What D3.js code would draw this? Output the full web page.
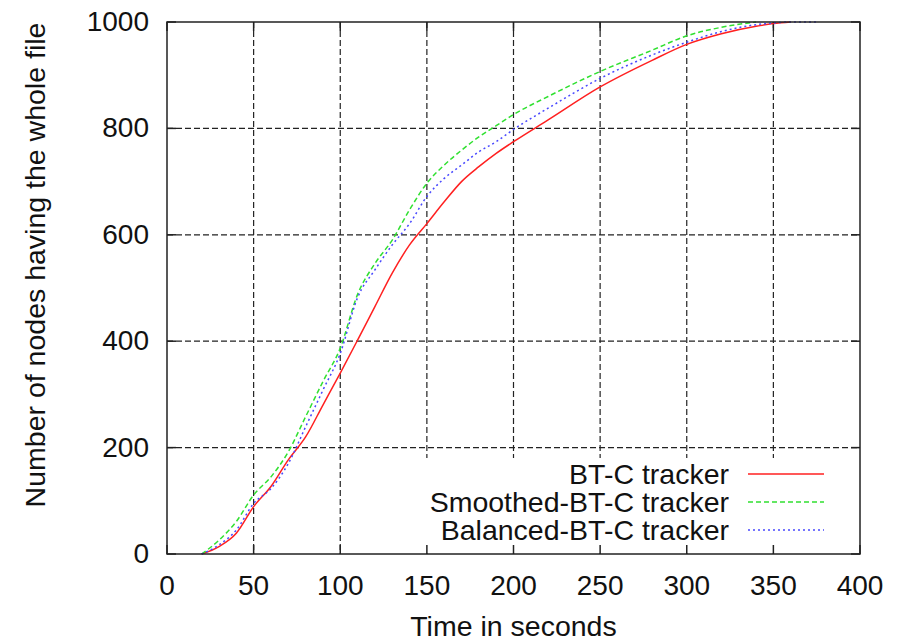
<!DOCTYPE html>
<html>
<head>
<meta charset="utf-8">
<script src="https://cdn.jsdelivr.net/npm/d3@7"></script>
<style>
  body { margin: 0; background: #fff; }
  text { font-family: "Liberation Sans", Arial, sans-serif; fill: #111; }
</style>
</head>
<body>
<svg id="chart" width="904" height="639"></svg>
<script>
// data
let times = [20, 30, 40, 50, 60, 70, 80, 90, 100, 110, 120, 130, 140, 150, 160, 170, 180, 190, 200, 220, 250, 280, 300, 320, 340, 350, 360, 375];
let btc      = [0, 14, 39, 89, 127, 177, 220, 280, 340, 402, 465, 528, 581, 621, 662, 700, 728, 753, 775, 816, 878, 928, 958, 978, 992, 997, 1000, null];
let smoothed = [0, 26, 61, 111, 145, 192, 258, 324, 387, 488, 546, 590, 647, 697, 731, 759, 784, 805, 826, 860, 907, 947, 974, 990, 1000, null, null, null];
let balanced = [0, 17, 45, 95, 123, 170, 239, 308, 377, 482, 534, 581, 621, 672, 706, 731, 756, 775, 798, 838, 894, 938, 962, 982, 995, 998, 1000, 1000];

let seriesNames = ['BT-C tracker', 'Smoothed-BT-C tracker', 'Balanced-BT-C tracker'];
let xTicks = [0, 50, 100, 150, 200, 250, 300, 350, 400];
let yTicks = [0, 200, 400, 600, 800, 1000];

let pLeft = 167, pRight = 860, pTop = 22, pBottom = 554;

let svg = d3.select('#chart');

let x = d3.scaleLinear().domain([0, 400]).range([pLeft, pRight]);
let y = d3.scaleLinear().domain([0, 1000]).range([pBottom, pTop]);

// grid
let grid = svg.append('g');
grid.selectAll('.vgrid')
    .data(xTicks.slice(1, -1))
    .join('line')
    .attr('x1', d => x(d)).attr('x2', d => x(d))
    .attr('y1', pTop).attr('y2', pBottom)
    .attr('stroke', '#222').attr('stroke-width', 1.2)
    .attr('stroke-dasharray', '6,3');
grid.selectAll('.hgrid')
    .data(yTicks.slice(1, -1))
    .join('line')
    .attr('x1', pLeft).attr('x2', pRight)
    .attr('y1', d => y(d)).attr('y2', d => y(d))
    .attr('stroke', '#222').attr('stroke-width', 1.2)
    .attr('stroke-dasharray', '6,3');

// legend background hides the grid behind it
svg.append('rect')
    .attr('x', 412).attr('y', 458)
    .attr('width', pRight - 412 - 1).attr('height', pBottom - 458 - 2)
    .attr('fill', '#fff');

// ticks (inward, mirrored)
let ticks = svg.append('g').attr('stroke', '#222').attr('stroke-width', 1.5);
xTicks.forEach(function (t) {
    ticks.append('line').attr('x1', x(t)).attr('x2', x(t)).attr('y1', pBottom).attr('y2', pBottom - 9);
    ticks.append('line').attr('x1', x(t)).attr('x2', x(t)).attr('y1', pTop).attr('y2', pTop + 9);
});
yTicks.forEach(function (t) {
    ticks.append('line').attr('x1', pLeft).attr('x2', pLeft + 9).attr('y1', y(t)).attr('y2', y(t));
    ticks.append('line').attr('x1', pRight).attr('x2', pRight - 9).attr('y1', y(t)).attr('y2', y(t));
});

// lines
let series = [
    { name: seriesNames[0], values: btc, color: '#ff2020', dash: null },
    { name: seriesNames[1], values: smoothed, color: '#30e030', dash: '5,3' },
    { name: seriesNames[2], values: balanced, color: '#4848ff', dash: '2,3' }
];

let line = d3.line()
    .defined(d => d[1] != null)
    .x(d => x(d[0]))
    .y(d => y(d[1]))
    .curve(d3.curveMonotoneX);

series.forEach(function (s) {
    svg.append('path')
        .datum(times.map((t, i) => [t, s.values[i]]))
        .attr('d', line)
        .attr('fill', 'none')
        .attr('stroke', s.color)
        .attr('stroke-width', 1.5)
        .attr('stroke-dasharray', s.dash);
});

// frame
svg.append('rect')
    .attr('x', pLeft).attr('y', pTop)
    .attr('width', pRight - pLeft).attr('height', pBottom - pTop)
    .attr('fill', 'none').attr('stroke', '#222').attr('stroke-width', 1.5);

// tick labels
svg.selectAll('.xlab')
    .data(xTicks)
    .join('text')
    .attr('x', d => x(d))
    .attr('y', 595)
    .attr('text-anchor', 'middle')
    .attr('font-size', '28px')
    .text(d => d);

svg.selectAll('.ylab')
    .data(yTicks)
    .join('text')
    .attr('x', 149)
    .attr('y', d => y(d) + 9)
    .attr('text-anchor', 'end')
    .attr('font-size', '28px')
    .text(d => d);

// axis titles
svg.append('text')
    .attr('x', x(200))
    .attr('y', 636)
    .attr('text-anchor', 'middle')
    .attr('font-size', '28.5px')
    .text('Time in seconds');

svg.append('text')
    .attr('transform', 'translate(45,265) rotate(-90)')
    .attr('text-anchor', 'middle')
    .attr('font-size', '28.5px')
    .text('Number of nodes having the whole file');

// legend
let legend = svg.append('g');
series.forEach(function (s, i) {
    let ly = 474 + i * 28;
    legend.append('text')
        .attr('x', 729)
        .attr('y', ly + 10)
        .attr('text-anchor', 'end')
        .attr('font-size', '28.5px')
        .text(s.name);
    legend.append('line')
        .attr('x1', 748).attr('x2', 824)
        .attr('y1', ly).attr('y2', ly)
        .attr('stroke', s.color)
        .attr('stroke-width', 1.5)
        .attr('stroke-dasharray', s.dash);
});
</script>
</body>
</html>
